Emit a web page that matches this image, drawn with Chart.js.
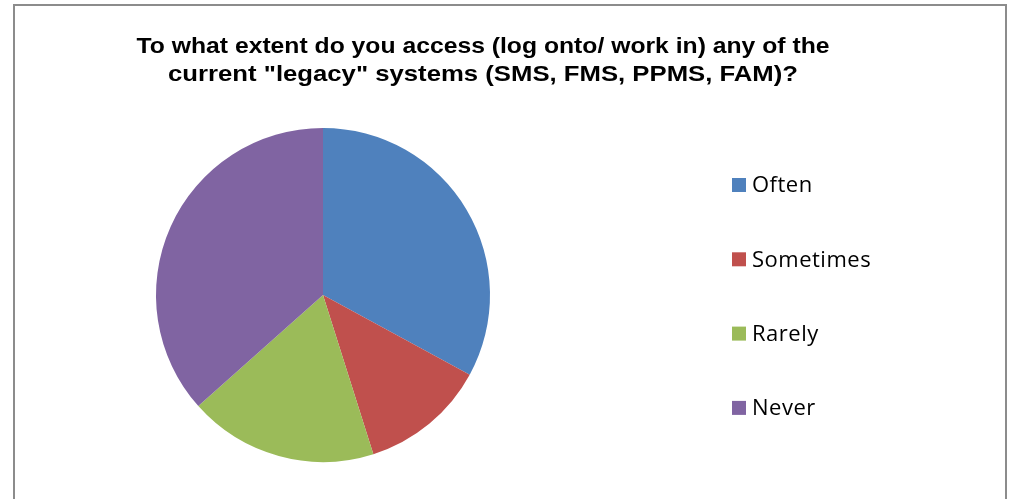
<!DOCTYPE html>
<html>
<head>
<meta charset="utf-8">
<script src="https://cdn.jsdelivr.net/npm/chart.js@4/dist/chart.umd.min.js"></script>
<style>
html,body{margin:0;padding:0;background:#fff;}
#wrap{position:relative;width:1017px;height:499px;overflow:hidden;}
#frame{position:absolute;left:13px;top:4px;width:994px;height:520px;border:2px solid #8c8c8c;box-sizing:border-box;}
canvas{position:absolute;left:0;top:0;}
</style>
</head>
<body>
<div id="wrap">
<div id="frame"></div>
<canvas id="c" width="1017" height="499"></canvas>
</div>
<script>
const titleLines = ['To what extent do you access (log onto/ work in) any of the', 'current "legacy" systems (SMS, FMS, PPMS, FAM)?'];
const categories = ['Often', 'Sometimes', 'Rarely', 'Never'];
const values = [27, 10, 15, 30];
const colors = ['#4F81BD', '#C0504D', '#9BBB59', '#8064A2'];

const titlePlugin = {
  id: 'titleDraw',
  afterDraw(chart) {
    const ctx = chart.ctx;
    ctx.save();
    ctx.fillStyle = '#000';
    ctx.font = 'bold 22px "Liberation Sans", Arial, sans-serif';
    ctx.textAlign = 'center';
    ctx.textBaseline = 'middle';
    const targets = [693, 630];
    const ys = [47, 75];
    titleLines.forEach((t, i) => {
      const w = ctx.measureText(t).width;
      const s = targets[i] / w;
      ctx.save();
      ctx.translate(483, ys[i]);
      ctx.scale(s, 1);
      ctx.fillText(t, 0, 0);
      ctx.restore();
    });
    ctx.restore();
  }
};

const legendPlugin = {
  id: 'legendDraw',
  afterDraw(chart) {
    const ctx = chart.ctx;
    const labels = chart.data.labels;
    const bg = chart.data.datasets[0].backgroundColor;
    ctx.save();
    ctx.font = '22px "Open Sans", Lato, sans-serif';
    ctx.letterSpacing = '0.5px';
    ctx.textBaseline = 'middle';
    ctx.textAlign = 'left';
    labels.forEach((l, i) => {
      const y = 185 + i * 74.3;
      ctx.fillStyle = bg[i];
      ctx.fillRect(732, y - 7, 14, 14);
      ctx.fillStyle = '#000';
      ctx.fillText(l, 752, y + 1);
    });
    ctx.restore();
  }
};

new Chart(document.getElementById('c'), {
  type: 'pie',
  data: {
    labels: categories,
    datasets: [{ data: values, backgroundColor: colors, borderWidth: 0 }]
  },
  options: {
    responsive: false,
    animation: false,
    layout: { padding: { left: 156, right: 527, top: 128, bottom: 37 } },
    plugins: { legend: { display: false }, title: { display: false }, tooltip: { enabled: false } }
  },
  plugins: [titlePlugin, legendPlugin]
});
</script>
</body>
</html>
